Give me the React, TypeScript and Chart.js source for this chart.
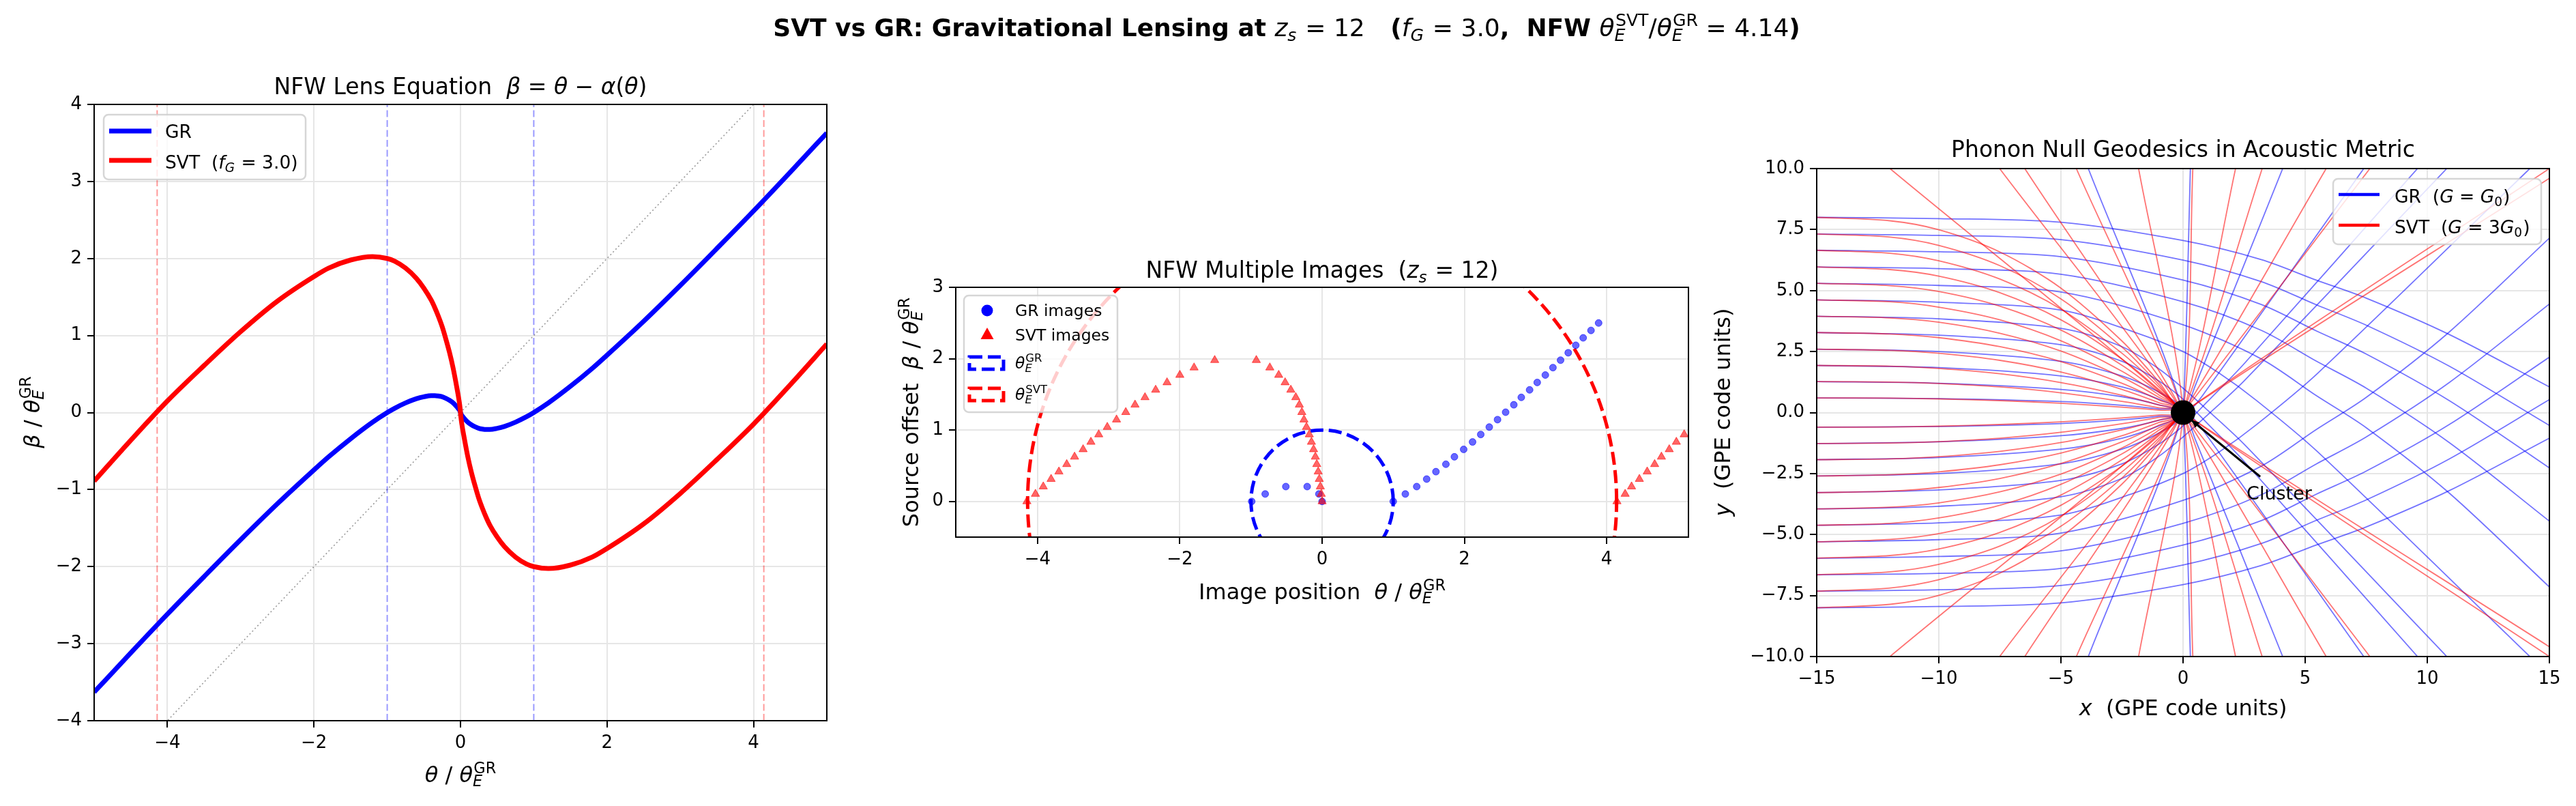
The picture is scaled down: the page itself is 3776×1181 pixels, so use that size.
import React, { useEffect, useRef } from "react";
import { Chart, registerables } from "chart.js";

Chart.register(...registerables);

const FONT = "'DejaVu Sans', sans-serif";
const PAGE_W = 3776;
const PAGE_H = 1181;

// ---------------- Panel 1: lens equation ----------------
const lensTheta = [-5, -4.5, -4, -3.5, -3, -2.5, -2, -1.8, -1.5, -1.2, -1, -0.9, -0.75, -0.6, -0.5, -0.4, -0.35, -0.3, -0.25, -0.2, -0.15, -0.1, -0.05, -0.02, -0.005, 0, 0.005, 0.02, 0.05, 0.1, 0.15, 0.2, 0.25, 0.3, 0.35, 0.4, 0.5, 0.6, 0.75, 0.9, 1, 1.2, 1.5, 1.8, 2, 2.5, 3, 3.5, 4, 4.5, 5];
const lensBetaGR = [-3.63, -3.12, -2.617, -2.13, -1.65, -1.185, -0.745, -0.575, -0.34, -0.125, 0, 0.055, 0.125, 0.18, 0.205, 0.22, 0.22, 0.215, 0.205, 0.185, 0.16, 0.125, 0.075, 0.04, 0.015, 0, -0.015, -0.04, -0.075, -0.125, -0.16, -0.185, -0.205, -0.215, -0.22, -0.22, -0.205, -0.18, -0.125, -0.055, 0, 0.125, 0.34, 0.575, 0.745, 1.185, 1.65, 2.13, 2.617, 3.12, 3.63];
const lensBetaSVT = [-0.89, -0.36, 0.15, 0.61, 1.05, 1.445, 1.765, 1.875, 1.98, 2.025, 2.0, 1.965, 1.875, 1.74, 1.615, 1.46, 1.36, 1.245, 1.115, 0.955, 0.78, 0.575, 0.325, 0.16, 0.055, 0, -0.055, -0.16, -0.325, -0.575, -0.78, -0.955, -1.115, -1.245, -1.36, -1.46, -1.615, -1.74, -1.875, -1.965, -2.0, -2.025, -1.98, -1.875, -1.765, -1.445, -1.05, -0.61, -0.15, 0.36, 0.89];
const thetaE_GR = 1.0;
const thetaE_SVT = 4.14;
const lensXTicks = [-4, -2, 0, 2, 4];
const lensYTicks = [-4, -3, -2, -1, 0, 1, 2, 3, 4];

// ---------------- Panel 2: multiple images ----------------
const imgBeta = [0, 0.104, 0.208, 0.313, 0.417, 0.521, 0.625, 0.729, 0.833, 0.938, 1.042, 1.146, 1.25, 1.354, 1.458, 1.563, 1.667, 1.771, 1.875, 1.979, 2.083, 2.188, 2.292, 2.396, 2.5];
const grOuterTheta = [1.0, 1.17, 1.33, 1.47, 1.6, 1.74, 1.86, 1.99, 2.115, 2.23, 2.35, 2.466, 2.58, 2.695, 2.8, 2.917, 3.024, 3.138, 3.245, 3.352, 3.46, 3.566, 3.67, 3.78, 3.887];
const grInnerTheta = [-0.99, 0.0, -0.8, -0.045, -0.51, -0.21];
const grInnerBeta = [0, 0, 0.104, 0.104, 0.208, 0.208];
const svtArcBeta = [0, 0.104, 0.208, 0.313, 0.417, 0.521, 0.625, 0.729, 0.833, 0.938, 1.042, 1.146, 1.25, 1.354, 1.458, 1.563, 1.667, 1.771, 1.875, 1.979];
const svtOuterTheta = [-4.15, -4.03, -3.92, -3.81, -3.7, -3.59, -3.48, -3.36, -3.25, -3.14, -3.02, -2.89, -2.76, -2.63, -2.49, -2.34, -2.18, -2.0, -1.8, -1.51];
const svtInnerTheta = [0, -0.012, -0.025, -0.04, -0.055, -0.075, -0.095, -0.12, -0.15, -0.18, -0.22, -0.255, -0.285, -0.32, -0.37, -0.44, -0.52, -0.61, -0.735, -0.925];
const svtRightBeta = [0, 0.104, 0.208, 0.313, 0.417, 0.521, 0.625, 0.729, 0.833, 0.938];
const svtRightTheta = [4.145, 4.26, 4.35, 4.46, 4.57, 4.675, 4.77, 4.88, 4.98, 5.09];
const imgXTicks = [-4, -2, 0, 2, 4];
const imgYTicks = [0, 1, 2, 3];

// ---------------- Panel 3: geodesics (x, y) ----------------
const grRays: number[][][] = [
  [[-15, 8], [-10, 7.95], [-5, 7.8], [0, 7.05], [3.2, 6.27], [5.45, 5.43], [7.5, 4.69], [10.9, 3.2], [15, 1.05]],
  [[-15, 7.32], [-10, 7.26], [-5, 7.09], [0, 6.25], [3.2, 5.37], [5.45, 4.42], [7.5, 3.58], [10.9, 1.9], [15, -0.53]],
  [[-15, 6.65], [-10, 6.59], [-5, 6.39], [0, 5.43], [3.2, 4.43], [5.45, 3.35], [7.5, 2.4], [10.9, 0.49], [15, -2.27]],
  [[-15, 5.97], [-10, 5.9], [-5, 5.67], [0, 4.54], [3.2, 3.37], [5.45, 2.11], [7.5, 1.0], [10.9, -1.23], [15, -4.45]],
  [[-15, 5.3], [-10, 5.21], [-5, 4.94], [0, 3.6], [3.2, 2.2], [5.45, 0.7], [7.5, -0.62], [10.9, -3.3], [15, -7.15]],
  [[-15, 4.62], [-10, 4.52], [-5, 4.2], [-2, 3.3], [0, 2.5], [1.5, 1.6], [3, 0.5], [5.5, -1.6], [14.2, -10]],
  [[-15, 3.95], [-10, 3.84], [-5, 3.45], [-2.5, 2.7], [-1, 1.8], [0, 1.0], [1, 0.1], [2.5, -1.3], [10.8, -10]],
  [[-15, 3.28], [-10, 3.17], [-5, 2.78], [-2.5, 2.1], [-1, 1.3], [0, 0.55], [1, -0.45], [2.5, -2.0], [9.6, -10]],
  [[-15, 2.6], [-10, 2.5], [-5, 2.1], [-2.5, 1.5], [-1, 0.85], [0, 0.2], [0.8, -0.7], [7.4, -10]],
  [[-15, 1.93], [-10, 1.84], [-5, 1.5], [-2.5, 1.05], [-1, 0.55], [0, 0.05], [0.5, -1.1], [4.08, -10]],
  [[-15, 1.27], [-10, 1.2], [-5, 0.95], [-2.5, 0.65], [-1, 0.32], [-0.1, 0], [0.05, -1], [0.3, -10]],
  [[-15, 0.6], [-10, 0.57], [-5, 0.45], [-2.5, 0.3], [-1, 0.15], [0, 0], [-3.88, -10]],
  [[-15, -8], [-10, -7.95], [-5, -7.8], [0, -7.05], [3.2, -6.27], [5.45, -5.43], [7.5, -4.69], [10.9, -3.2], [15, -1.05]],
  [[-15, -7.32], [-10, -7.26], [-5, -7.09], [0, -6.25], [3.2, -5.37], [5.45, -4.42], [7.5, -3.58], [10.9, -1.9], [15, 0.53]],
  [[-15, -6.65], [-10, -6.59], [-5, -6.39], [0, -5.43], [3.2, -4.43], [5.45, -3.35], [7.5, -2.4], [10.9, -0.49], [15, 2.27]],
  [[-15, -5.97], [-10, -5.9], [-5, -5.67], [0, -4.54], [3.2, -3.37], [5.45, -2.11], [7.5, -1.0], [10.9, 1.23], [15, 4.45]],
  [[-15, -5.3], [-10, -5.21], [-5, -4.94], [0, -3.6], [3.2, -2.2], [5.45, -0.7], [7.5, 0.62], [10.9, 3.3], [15, 7.15]],
  [[-15, -4.62], [-10, -4.52], [-5, -4.2], [-2, -3.3], [0, -2.5], [1.5, -1.6], [3, -0.5], [5.5, 1.6], [14.2, 10]],
  [[-15, -3.95], [-10, -3.84], [-5, -3.45], [-2.5, -2.7], [-1, -1.8], [0, -1.0], [1, -0.1], [2.5, 1.3], [10.8, 10]],
  [[-15, -3.28], [-10, -3.17], [-5, -2.78], [-2.5, -2.1], [-1, -1.3], [0, -0.55], [1, 0.45], [2.5, 2.0], [9.6, 10]],
  [[-15, -2.6], [-10, -2.5], [-5, -2.1], [-2.5, -1.5], [-1, -0.85], [0, -0.2], [0.8, 0.7], [7.4, 10]],
  [[-15, -1.93], [-10, -1.84], [-5, -1.5], [-2.5, -1.05], [-1, -0.55], [0, -0.05], [0.5, 1.1], [4.08, 10]],
  [[-15, -1.27], [-10, -1.2], [-5, -0.95], [-2.5, -0.65], [-1, -0.32], [-0.1, 0], [0.05, 1], [0.3, 10]],
  [[-15, -0.6], [-10, -0.57], [-5, -0.45], [-2.5, -0.3], [-1, -0.15], [0, 0], [-3.88, 10]],
];
const svtRays: number[][][] = [
  [[-15, 8], [-12, 7.86], [-10, 7.49], [-7.5, 6.58], [-5, 5.1], [-2.5, 2.93], [-1, 1.27], [0, 0], [15, -10]],
  [[-15, 7.32], [-12, 7.19], [-10, 6.85], [-7.5, 6.02], [-5, 4.66], [-2.5, 2.68], [-1, 1.16], [0, 0], [15, -9.6]],
  [[-15, 6.65], [-12, 6.53], [-10, 6.22], [-7.5, 5.47], [-5, 4.24], [-2.5, 2.43], [-1, 1.06], [0, 0], [7.65, -10]],
  [[-15, 5.97], [-12, 5.86], [-10, 5.59], [-7.5, 4.91], [-5, 3.8], [-2.5, 2.19], [-1, 0.95], [0, 0], [5.86, -10]],
  [[-15, 5.3], [-12, 5.2], [-10, 4.96], [-7.5, 4.36], [-5, 3.38], [-2.5, 1.94], [-1, 0.84], [0, 0], [3.24, -10]],
  [[-15, 4.62], [-12, 4.54], [-10, 4.32], [-7.5, 3.8], [-5, 2.94], [-2.5, 1.69], [-1, 0.73], [0, 0], [2.15, -10]],
  [[-15, 3.95], [-12, 3.88], [-10, 3.7], [-7.5, 3.25], [-5, 2.52], [-2.5, 1.45], [-1, 0.63], [0, 0], [0.4, -10]],
  [[-15, 3.28], [-12, 3.22], [-10, 3.07], [-7.5, 2.7], [-5, 2.09], [-2.5, 1.2], [-1, 0.52], [0, 0], [-1.82, -10]],
  [[-15, 2.6], [-12, 2.55], [-10, 2.43], [-7.5, 2.14], [-5, 1.66], [-2.5, 0.95], [-1, 0.41], [0, 0], [-4.37, -10]],
  [[-15, 1.93], [-12, 1.9], [-10, 1.81], [-7.5, 1.59], [-5, 1.23], [-2.5, 0.71], [-1, 0.31], [0, 0], [-6.48, -10]],
  [[-15, 1.27], [-12, 1.25], [-10, 1.19], [-7.5, 1.05], [-5, 0.81], [-2.5, 0.46], [-1, 0.2], [0, 0], [-7.51, -10]],
  [[-15, 0.6], [-12, 0.59], [-10, 0.56], [-7.5, 0.49], [-5, 0.38], [-2.5, 0.22], [-1, 0.1], [0, 0], [-12, -10]],
  [[-15, -8], [-12, -7.86], [-10, -7.49], [-7.5, -6.58], [-5, -5.1], [-2.5, -2.93], [-1, -1.27], [0, 0], [15, 10]],
  [[-15, -7.32], [-12, -7.19], [-10, -6.85], [-7.5, -6.02], [-5, -4.66], [-2.5, -2.68], [-1, -1.16], [0, 0], [15, 9.6]],
  [[-15, -6.65], [-12, -6.53], [-10, -6.22], [-7.5, -5.47], [-5, -4.24], [-2.5, -2.43], [-1, -1.06], [0, 0], [7.65, 10]],
  [[-15, -5.97], [-12, -5.86], [-10, -5.59], [-7.5, -4.91], [-5, -3.8], [-2.5, -2.19], [-1, -0.95], [0, 0], [5.86, 10]],
  [[-15, -5.3], [-12, -5.2], [-10, -4.96], [-7.5, -4.36], [-5, -3.38], [-2.5, -1.94], [-1, -0.84], [0, 0], [3.24, 10]],
  [[-15, -4.62], [-12, -4.54], [-10, -4.32], [-7.5, -3.8], [-5, -2.94], [-2.5, -1.69], [-1, -0.73], [0, 0], [2.15, 10]],
  [[-15, -3.95], [-12, -3.88], [-10, -3.7], [-7.5, -3.25], [-5, -2.52], [-2.5, -1.45], [-1, -0.63], [0, 0], [0.4, 10]],
  [[-15, -3.28], [-12, -3.22], [-10, -3.07], [-7.5, -2.7], [-5, -2.09], [-2.5, -1.2], [-1, -0.52], [0, 0], [-1.82, 10]],
  [[-15, -2.6], [-12, -2.55], [-10, -2.43], [-7.5, -2.14], [-5, -1.66], [-2.5, -0.95], [-1, -0.41], [0, 0], [-4.37, 10]],
  [[-15, -1.93], [-12, -1.9], [-10, -1.81], [-7.5, -1.59], [-5, -1.23], [-2.5, -0.71], [-1, -0.31], [0, 0], [-6.48, 10]],
  [[-15, -1.27], [-12, -1.25], [-10, -1.19], [-7.5, -1.05], [-5, -0.81], [-2.5, -0.46], [-1, -0.2], [0, 0], [-7.51, 10]],
  [[-15, -0.6], [-12, -0.59], [-10, -0.56], [-7.5, -0.49], [-5, -0.38], [-2.5, -0.22], [-1, -0.1], [0, 0], [-12, 10]],
];
const clusterPos = [0, 0];
const clusterLabel = "Cluster";
const rayXTicks = [-15, -10, -5, 0, 5, 10, 15];
const rayYTicks = [-10, -7.5, -5, -2.5, 0, 2.5, 5, 7.5, 10];

// annotation geometry (data units)
const ANNOT_TEXT_AT = [2.6, -3.57];
const ANNOT_FROM = [3.16, -2.63];
const ANNOT_TO = [0.33, -0.3];

// ---------------- helpers ----------------
const minus = (v: number, dec?: number) => {
  const a = dec !== undefined ? Math.abs(v).toFixed(dec) : String(Math.abs(v));
  return (v < 0 ? "\u2212" : "") + a;
};

function mkScale(axis: "x" | "y", min: number, max: number, ticks: number[], fmt: (v: number) => string, size: number) {
  return {
    type: "linear",
    position: axis === "x" ? "bottom" : "left",
    min,
    max,
    afterBuildTicks: (s: any) => {
      s.ticks = ticks.map((v) => ({ value: v }));
    },
    afterFit: (s: any) => {
      if (axis === "x") s.height = size;
      else s.width = size;
    },
    ticks: {
      color: "#000",
      font: { family: FONT, size: 26 },
      padding: 8,
      autoSkip: false,
      maxRotation: 0,
      minRotation: 0,
      callback: (v: any) => fmt(Number(v)),
    },
    grid: { color: "#e6e6e6", lineWidth: 2, tickColor: "#000", tickWidth: 2, tickLength: 10 },
    border: { display: false },
  };
}

const framePlugin = {
  id: "frame",
  afterDraw(chart: any) {
    const { ctx, chartArea: a } = chart;
    ctx.save();
    ctx.strokeStyle = "#000";
    ctx.lineWidth = 2;
    ctx.strokeRect(a.left, a.top, a.right - a.left, a.bottom - a.top);
    ctx.restore();
  },
};

function baseOptions(padTop: number, padRight: number, scales: any) {
  return {
    responsive: false,
    animation: false,
    devicePixelRatio: 1,
    events: [],
    layout: { padding: { left: 0, top: padTop, right: padRight, bottom: 0 } },
    plugins: { legend: { display: false }, title: { display: false }, tooltip: { enabled: false } },
    scales,
  };
}

const zip = (xs: number[], ys: number[]) => xs.map((x, i) => ({ x, y: ys[i] }));

function lineDs(data: any[], color: string, width: number, extra: any = {}) {
  return { data, showLine: true, borderColor: color, borderWidth: width, pointRadius: 0, clip: 0, ...extra };
}

function makeLensChart(canvas: HTMLCanvasElement) {
  const vlines: any[] = [];
  for (const t of [-thetaE_GR, thetaE_GR]) vlines.push(lineDs([{ x: t, y: -4 }, { x: t, y: 4 }], "rgba(0,0,255,0.4)", 2, { borderDash: [10, 4.5] }));
  for (const t of [-thetaE_SVT, thetaE_SVT]) vlines.push(lineDs([{ x: t, y: -4 }, { x: t, y: 4 }], "rgba(255,0,0,0.4)", 2, { borderDash: [10, 4.5] }));
  return new Chart(canvas, {
    type: "scatter",
    data: {
      datasets: [
        lineDs(zip(lensTheta, lensBetaSVT), "#ff0000", 7, { cubicInterpolationMode: "monotone" }),
        lineDs(zip(lensTheta, lensBetaGR), "#0000ff", 7, { cubicInterpolationMode: "monotone" }),
        ...vlines,
        lineDs([{ x: -5, y: -5 }, { x: 5, y: 5 }], "rgba(0,0,0,0.4)", 1.6, { borderDash: [2, 3.6] }),
      ],
    } as any,
    options: baseOptions(53, 48, {
      x: mkScale("x", -5, 5, lensXTicks, (v) => minus(v), 84),
      y: mkScale("y", -4, 4, lensYTicks, (v) => minus(v), 138),
    }) as any,
    plugins: [framePlugin],
  });
}

const ringsPlugin = {
  id: "rings",
  beforeDatasetsDraw(chart: any) {
    const { ctx, chartArea: a, scales } = chart;
    const x = scales.x, y = scales.y;
    ctx.save();
    ctx.beginPath();
    ctx.rect(a.left, a.top, a.right - a.left, a.bottom - a.top);
    ctx.clip();
    const cx = x.getPixelForValue(0), cy = y.getPixelForValue(0);
    const rings: [number, string][] = [[thetaE_GR, "#0000ff"], [thetaE_SVT, "#ff0000"]];
    for (const [r, col] of rings) {
      const rx = x.getPixelForValue(r) - cx;
      const ry = cy - y.getPixelForValue(r);
      ctx.beginPath();
      ctx.ellipse(cx, cy, rx, ry, 0, 0, -2 * Math.PI, true);
      ctx.setLineDash([19, 8]);
      ctx.lineWidth = 5;
      ctx.strokeStyle = col;
      ctx.stroke();
    }
    ctx.restore();
  },
};

function makeImagesChart(canvas: HTMLCanvasElement) {
  const grPts = [...zip(grInnerTheta, grInnerBeta), ...zip(grOuterTheta, imgBeta)];
  const svtPts = [...zip(svtOuterTheta, svtArcBeta), ...zip(svtInnerTheta, svtArcBeta), ...zip(svtRightTheta, svtRightBeta)];
  return new Chart(canvas, {
    type: "scatter",
    data: {
      datasets: [
        { data: svtPts, pointStyle: "triangle", pointRadius: 7, pointBackgroundColor: "rgba(255,0,0,0.6)", pointBorderColor: "rgba(255,0,0,0.6)", pointBorderWidth: 1, clip: 0 },
        { data: grPts, pointStyle: "circle", pointRadius: 5, pointBackgroundColor: "rgba(0,0,255,0.6)", pointBorderColor: "rgba(0,0,255,0.6)", pointBorderWidth: 1, clip: 0 },
      ],
    } as any,
    options: baseOptions(41, 45, {
      x: mkScale("x", -5.15, 5.15, imgXTicks, (v) => minus(v), 73),
      y: mkScale("y", -0.5, 3, imgYTicks, (v) => minus(v), 151),
    }) as any,
    plugins: [ringsPlugin, framePlugin],
  });
}

const annotPlugin = {
  id: "annot",
  afterDatasetsDraw(chart: any) {
    const { ctx, scales } = chart;
    const px = (v: number) => scales.x.getPixelForValue(v);
    const py = (v: number) => scales.y.getPixelForValue(v);
    const x0 = px(ANNOT_FROM[0]), y0 = py(ANNOT_FROM[1]);
    const x1 = px(ANNOT_TO[0]), y1 = py(ANNOT_TO[1]);
    ctx.save();
    ctx.strokeStyle = "#000";
    ctx.fillStyle = "#000";
    ctx.lineWidth = 3;
    ctx.beginPath();
    ctx.moveTo(x0, y0);
    ctx.lineTo(x1, y1);
    ctx.stroke();
    const ang = Math.atan2(y1 - y0, x1 - x0);
    const hl = 12, hw = 5;
    ctx.beginPath();
    ctx.moveTo(x1, y1);
    ctx.lineTo(x1 - hl * Math.cos(ang) + hw * Math.sin(ang), y1 - hl * Math.sin(ang) - hw * Math.cos(ang));
    ctx.lineTo(x1 - hl * Math.cos(ang) - hw * Math.sin(ang), y1 - hl * Math.sin(ang) + hw * Math.cos(ang));
    ctx.closePath();
    ctx.fill();
    ctx.font = `27px ${FONT}`;
    ctx.textAlign = "left";
    ctx.textBaseline = "alphabetic";
    ctx.fillText(clusterLabel, px(ANNOT_TEXT_AT[0]), py(ANNOT_TEXT_AT[1]));
    ctx.restore();
  },
};

function makeRaysChart(canvas: HTMLCanvasElement) {
  const toPts = (r: number[][]) => r.map(([x, y]) => ({ x, y }));
  const rayDs = (r: number[][], col: string) => lineDs(toPts(r), col, 1.8, { tension: 0.3 });
  return new Chart(canvas, {
    type: "scatter",
    data: {
      datasets: [
        { data: [{ x: clusterPos[0], y: clusterPos[1] }], pointRadius: 18, pointBackgroundColor: "#000", pointBorderWidth: 0, clip: false },
        ...svtRays.map((r) => rayDs(r, "rgba(255,0,0,0.55)")),
        ...grRays.map((r) => rayDs(r, "rgba(0,0,255,0.55)")),
      ],
    } as any,
    options: baseOptions(47, 39, {
      x: mkScale("x", -15, 15, rayXTicks, (v) => minus(v), 58),
      y: mkScale("y", -10, 10, rayYTicks, (v) => minus(v, 1), 143),
    }) as any,
    plugins: [framePlugin, annotPlugin],
  });
}

// ---------------- rich text on overlay ----------------
type Run = { t?: string; it?: boolean; bd?: boolean; sub?: string; sup?: string; subIt?: boolean };

const fontStr = (size: number, it?: boolean, bd?: boolean) => `${it ? "italic " : ""}${bd ? "bold " : ""}${size}px ${FONT}`;

function runWidth(ctx: CanvasRenderingContext2D, r: Run, size: number) {
  if (r.t !== undefined) {
    ctx.font = fontStr(size, r.it, r.bd);
    return ctx.measureText(r.t).width;
  }
  const s = size * 0.7;
  let w = 0;
  if (r.sub) {
    ctx.font = fontStr(s, r.subIt, r.bd);
    w = Math.max(w, ctx.measureText(r.sub).width);
  }
  if (r.sup) {
    ctx.font = fontStr(s, false, r.bd);
    w = Math.max(w, ctx.measureText(r.sup).width);
  }
  return w + size * 0.04;
}

function drawRich(ctx: CanvasRenderingContext2D, runs: Run[], x: number, y: number, size: number, align: "left" | "center") {
  const total = runs.reduce((a, r) => a + runWidth(ctx, r, size), 0);
  let cx = align === "center" ? x - total / 2 : x;
  ctx.textAlign = "left";
  ctx.textBaseline = "alphabetic";
  for (const r of runs) {
    const w = runWidth(ctx, r, size);
    if (r.t !== undefined) {
      ctx.font = fontStr(size, r.it, r.bd);
      ctx.fillText(r.t, cx, y);
    } else {
      const s = size * 0.7;
      if (r.sup) {
        ctx.font = fontStr(s, false, r.bd);
        ctx.fillText(r.sup, cx + size * 0.04, y - size * 0.42);
      }
      if (r.sub) {
        ctx.font = fontStr(s, r.subIt, r.bd);
        ctx.fillText(r.sub, cx, y + size * 0.2);
      }
    }
    cx += w;
  }
}

function drawRichRot(ctx: CanvasRenderingContext2D, runs: Run[], x: number, y: number, size: number) {
  ctx.save();
  ctx.translate(x, y);
  ctx.rotate(-Math.PI / 2);
  drawRich(ctx, runs, 0, 0, size, "center");
  ctx.restore();
}

const thetaE = (sup: string): Run[] => [{ t: "\u03b8", it: true }, { sub: "E", subIt: true, sup }];

const suptitleRuns: Run[] = [
  { t: "SVT vs GR: Gravitational Lensing at ", bd: true },
  { t: "z", it: true }, { sub: "s", subIt: true }, { t: " = 12" },
  { t: "   (", bd: true },
  { t: "f", it: true }, { sub: "G", subIt: true }, { t: " = 3.0" },
  { t: ",  NFW ", bd: true },
  ...thetaE("SVT"), { t: "/" }, ...thetaE("GR"), { t: " = 4.14" },
  { t: ")", bd: true },
];
const lensTitleRuns: Run[] = [
  { t: "NFW Lens Equation  " }, { t: "\u03b2", it: true }, { t: " = " }, { t: "\u03b8", it: true }, { t: " \u2212 " }, { t: "\u03b1", it: true }, { t: "(" }, { t: "\u03b8", it: true }, { t: ")" },
];
const imgTitleRuns: Run[] = [{ t: "NFW Multiple Images  (" }, { t: "z", it: true }, { sub: "s", subIt: true }, { t: " = 12)" }];
const rayTitleRuns: Run[] = [{ t: "Phonon Null Geodesics in Acoustic Metric" }];
const thetaLabel: Run[] = [{ t: "\u03b8", it: true }, { t: " / " }, ...thetaE("GR")];
const betaLabel: Run[] = [{ t: "\u03b2", it: true }, { t: " / " }, ...thetaE("GR")];

function roundBox(ctx: CanvasRenderingContext2D, x: number, y: number, w: number, h: number) {
  ctx.save();
  ctx.beginPath();
  ctx.roundRect(x, y, w, h, 7);
  ctx.fillStyle = "rgba(255,255,255,0.8)";
  ctx.fill();
  ctx.strokeStyle = "rgba(204,204,204,0.8)";
  ctx.lineWidth = 2.5;
  ctx.stroke();
  ctx.restore();
}

function drawOverlay(c: HTMLCanvasElement) {
  const ctx = c.getContext("2d")!;
  ctx.clearRect(0, 0, c.width, c.height);
  ctx.fillStyle = "#000";

  drawRich(ctx, suptitleRuns, 1886, 53, 36, "center");

  drawRich(ctx, lensTitleRuns, 675, 138, 33, "center");
  drawRich(ctx, imgTitleRuns, 1938, 407, 33, "center");
  drawRich(ctx, rayTitleRuns, 3200, 230, 33, "center");

  drawRich(ctx, thetaLabel, 675, 1146, 32, "center");
  drawRichRot(ctx, betaLabel, 58, 604, 32);
  drawRich(ctx, [{ t: "Image position  " }, ...thetaLabel], 1938, 878, 32, "center");
  drawRichRot(ctx, [{ t: "Source offset  " }, ...betaLabel], 1346, 604, 32);
  drawRich(ctx, [{ t: "x", it: true }, { t: "  (GPE code units)" }], 3200, 1048, 32, "center");
  drawRichRot(ctx, [{ t: "y", it: true }, { t: "  (GPE code units)" }], 2536, 604, 32);

  // Legend: lens panel
  roundBox(ctx, 152, 168, 296, 95);
  ctx.lineWidth = 7;
  ctx.strokeStyle = "#0000ff";
  ctx.beginPath(); ctx.moveTo(160, 192); ctx.lineTo(222, 192); ctx.stroke();
  ctx.strokeStyle = "#ff0000";
  ctx.beginPath(); ctx.moveTo(160, 235); ctx.lineTo(222, 235); ctx.stroke();
  ctx.fillStyle = "#000";
  drawRich(ctx, [{ t: "GR" }], 242, 202, 26.5, "left");
  drawRich(ctx, [{ t: "SVT  (" }, { t: "f", it: true }, { sub: "G", subIt: true }, { t: " = 3.0)" }], 242, 247, 26.5, "left");

  // Legend: images panel
  roundBox(ctx, 1413, 433, 225, 171);
  ctx.fillStyle = "#0000ff";
  ctx.beginPath(); ctx.arc(1447, 455, 8.5, 0, Math.PI * 2); ctx.fill();
  ctx.fillStyle = "#ff0000";
  ctx.beginPath(); ctx.moveTo(1447, 480); ctx.lineTo(1456.5, 497); ctx.lineTo(1437.5, 497); ctx.closePath(); ctx.fill();
  ctx.save();
  ctx.setLineDash([19, 8]);
  ctx.lineWidth = 5;
  ctx.strokeStyle = "#0000ff";
  ctx.strokeRect(1421, 523, 50, 18);
  ctx.strokeStyle = "#ff0000";
  ctx.strokeRect(1421, 569, 50, 18);
  ctx.restore();
  ctx.fillStyle = "#000";
  drawRich(ctx, [{ t: "GR images" }], 1488, 463, 23.5, "left");
  drawRich(ctx, [{ t: "SVT images" }], 1488, 499, 23.5, "left");
  drawRich(ctx, thetaE("GR"), 1488, 540, 23.5, "left");
  drawRich(ctx, thetaE("SVT"), 1488, 586, 23.5, "left");

  // Legend: rays panel
  roundBox(ctx, 3420, 262, 305, 96);
  ctx.lineWidth = 4.5;
  ctx.strokeStyle = "#0000ff";
  ctx.beginPath(); ctx.moveTo(3428, 285); ctx.lineTo(3488, 285); ctx.stroke();
  ctx.strokeStyle = "#ff0000";
  ctx.beginPath(); ctx.moveTo(3428, 330); ctx.lineTo(3488, 330); ctx.stroke();
  ctx.fillStyle = "#000";
  drawRich(ctx, [{ t: "GR  (" }, { t: "G", it: true }, { t: " = " }, { t: "G", it: true }, { sub: "0" }, { t: ")" }], 3510, 297, 26.5, "left");
  drawRich(ctx, [{ t: "SVT  (" }, { t: "G", it: true }, { t: " = 3" }, { t: "G", it: true }, { sub: "0" }, { t: ")" }], 3510, 342, 26.5, "left");
}

function ChartCanvas({ x, y, w, h, make }: { x: number; y: number; w: number; h: number; make: (c: HTMLCanvasElement) => Chart }) {
  const ref = useRef<HTMLCanvasElement>(null);
  useEffect(() => {
    const chart = make(ref.current!);
    return () => chart.destroy();
  }, []);
  return <canvas ref={ref} width={w} height={h} style={{ position: "absolute", left: x, top: y, width: w, height: h }} />;
}

export default function App() {
  const overlayRef = useRef<HTMLCanvasElement>(null);
  useEffect(() => {
    if (overlayRef.current) drawOverlay(overlayRef.current);
  }, []);
  return (
    <div style={{ position: "fixed", left: 0, top: 0, width: PAGE_W, height: PAGE_H, background: "#fff", overflow: "hidden" }}>
      <ChartCanvas x={0} y={100} w={1260} h={1040} make={makeLensChart} />
      <ChartCanvas x={1250} y={380} w={1270} h={480} make={makeImagesChart} />
      <ChartCanvas x={2520} y={200} w={1256} h={820} make={makeRaysChart} />
      <canvas ref={overlayRef} width={PAGE_W} height={PAGE_H} style={{ position: "absolute", left: 0, top: 0, zIndex: 5, pointerEvents: "none" }} />
    </div>
  );
}
